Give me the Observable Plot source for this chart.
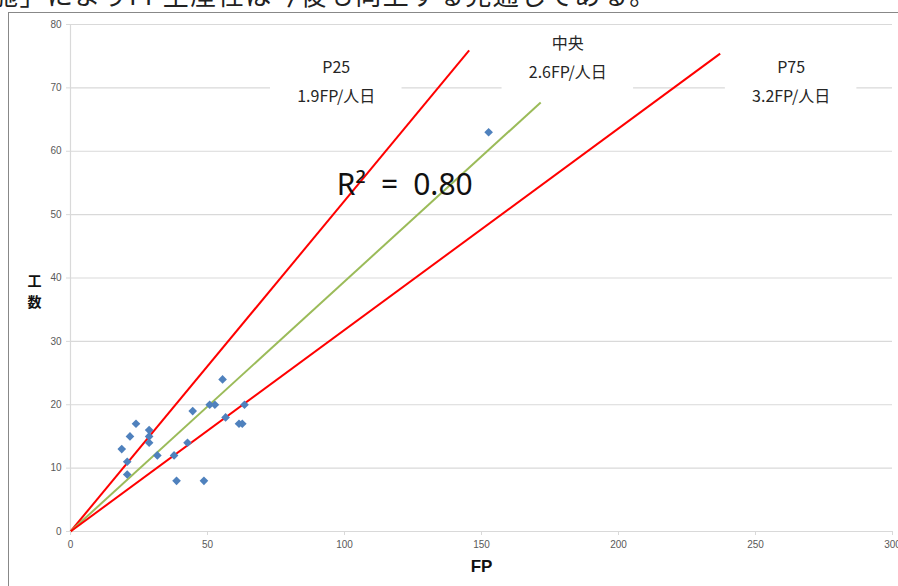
<!DOCTYPE html>
<html><head><meta charset="utf-8">
<script src="https://cdn.jsdelivr.net/npm/d3@7"></script>
<script src="https://cdn.jsdelivr.net/npm/@observablehq/plot@0.6"></script>
<style>
html,body{margin:0;padding:0;background:#fff;overflow:hidden;width:898px;height:586px;}
#top{position:absolute;left:-8px;top:-19px;font-family:"Noto Sans CJK JP";font-size:26px;letter-spacing:1.5px;white-space:nowrap;line-height:26px;color:#222;}
#frame{position:absolute;left:8px;top:12px;width:1000px;height:1000px;border-left:1px solid #888;border-top:1px solid #888;}
#chart{position:absolute;left:0;top:0;}
</style></head><body>
<div id="top">施」によりFP生産性は今後も向上する見通しである。</div>
<div id="frame"></div>
<div id="chart"></div>
<script>
// scatter data (FP, 工数)
const fp     = [18.7, 20.7, 20.7, 21.7, 23.9, 28.7, 28.7, 28.7, 31.7, 37.8, 38.7, 42.7, 44.6, 48.7, 50.8, 52.7, 55.5, 56.6, 61.5, 62.7, 63.5, 152.6];
const effort = [13,   11,   9,    15,   17,   16,   15,   14,   12,   12,   8,    14,   19,   8,    20,   20,   24,   18,   17,   17,   20,   63];

// productivity lines from origin
const lineNames     = ["P25", "中央", "P75"];
const lineEndFP     = [145.5, 171.6, 237.1];
const lineEndEffort = [75.9, 67.7, 75.4];

// line labels
const labelNames  = ["P25", "中央", "P75"];
const labelRates  = ["1.9FP/人日", "2.6FP/人日", "3.2FP/人日"];
const labelFP     = [97, 181.5, 263];
const labelEffort = [70.9, 74.6, 70.9];

const r2Text = "R²\u2002=\u20020.80";
const r2FP = 122, r2Effort = 54.6;

const xTicks = [0, 50, 100, 150, 200, 250, 300];
const yTicks = [0, 10, 20, 30, 40, 50, 60, 70, 80];
const xLabel = "FP";
const yLabelChars = ["工", "数"];

const points = fp.map((v, i) => ({fp: v, effort: effort[i]}));
const lines = lineNames.map((n, i) => ({name: n, x: lineEndFP[i], y: lineEndEffort[i]}));
const labels = labelNames.map((n, i) => ({name: n, rate: labelRates[i], x: labelFP[i], y: labelEffort[i]}));

const yLabelStyle = {text: d => d, frameAnchor: "left", textAnchor: "start", dx: -43, fontSize: 14, fontWeight: "bold", fill: "#111", fontFamily: "Noto Sans CJK JP"};

const chart = Plot.plot({
  width: 898,
  height: 586,
  marginLeft: 70,
  marginRight: 6,
  marginTop: 24,
  marginBottom: 55,
  style: {background: "transparent", fontFamily: "Liberation Sans"},
  x: {domain: [0, 300]},
  y: {domain: [0, 80]},
  color: {domain: lineNames, range: ["#ff0000", "#9bbb59", "#ff0000"]},
  marks: [
    Plot.gridY(yTicks, {stroke: "#d9d9d9", strokeOpacity: 1, strokeWidth: 1.2}),
    Plot.ruleX([0], {stroke: "#d9d9d9", strokeWidth: 1.2}),
    Plot.rect(labels, {x1: d => d.x - 24, x2: d => d.x + 24, y1: d => d.y - 5.8, y2: d => d.y + 4.5, fill: "white"}),
    Plot.link(lines, {x1: 0, y1: 0, x2: "x", y2: "y", stroke: "name", strokeWidth: 2}),
    Plot.dot(points, {x: "fp", y: "effort", symbol: "diamond2", r: 3.9, fill: "#4f81bd"}),
    Plot.text(labels, {x: "x", y: "y", text: "name", dy: -14.5, fontSize: 16, fill: "#262626", fontFamily: "Noto Sans CJK JP"}),
    Plot.text(labels, {x: "x", y: "y", text: "rate", dy: 14.5, fontSize: 16, fill: "#262626", fontFamily: "Noto Sans CJK JP"}),
    Plot.text([r2Text], {x: r2FP, y: r2Effort, text: d => d, fontSize: 30, fill: "#111", fontFamily: "Noto Sans"}),
    Plot.axisY({ticks: yTicks, tickSize: 4, tickPadding: 5, stroke: "#d9d9d9", color: "#595959", fontSize: 10, label: null}),
    Plot.axisX({ticks: xTicks, tickSize: 4, tickPadding: 5, stroke: "#d9d9d9", color: "#595959", fontSize: 10, label: null}),
    Plot.text([yLabelChars[0]], {...yLabelStyle, dy: 3.5}),
    Plot.text([yLabelChars[1]], {...yLabelStyle, dy: 24.5}),
    Plot.text([xLabel], {text: d => d, frameAnchor: "bottom", lineAnchor: "middle", dy: 35, fontSize: 17, fontWeight: "bold", fill: "#111", fontFamily: "Liberation Sans"})
  ]
});
document.getElementById("chart").appendChild(chart);
</script>
</body></html>
